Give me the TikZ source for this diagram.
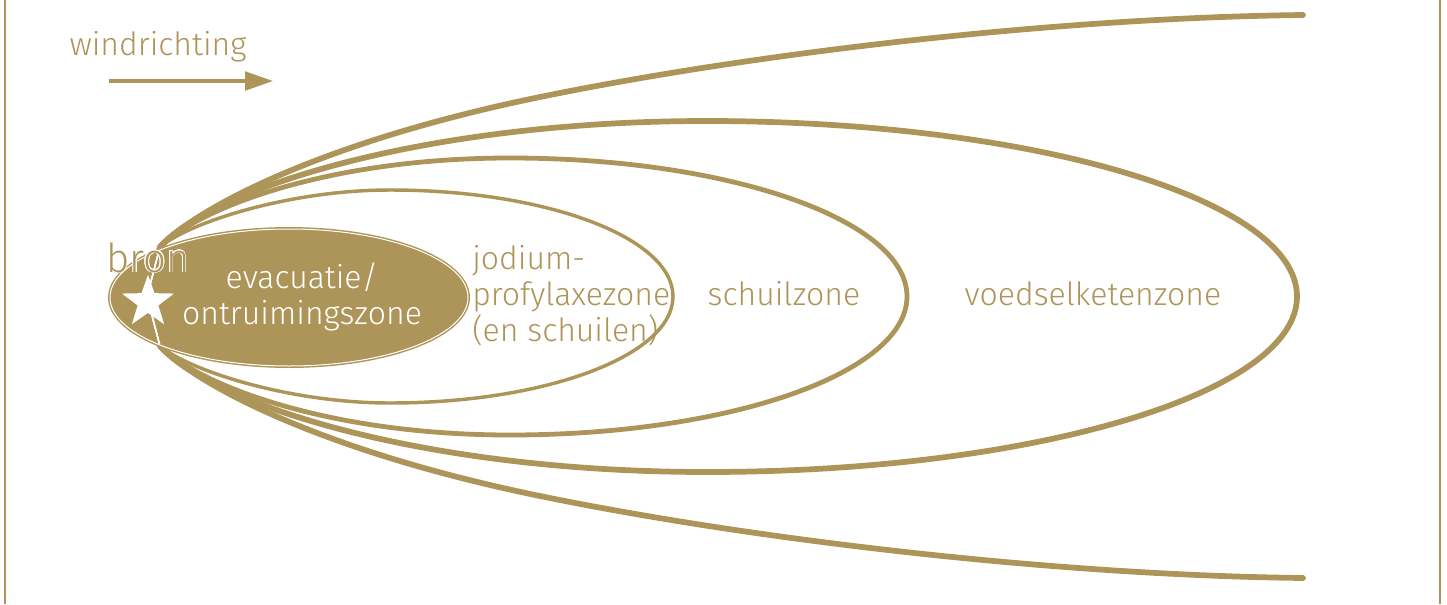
\documentclass[tikz,border=0pt]{standalone}
\usepackage{fontspec}
\setmainfont{Fira Sans}[UprightFont={* Light}]
\usepackage{contour}
\usetikzlibrary{arrows.meta,shapes.geometric}

\definecolor{zonegold}{RGB}{173,149,89}
\contourlength{0.5pt}

\tikzset{
  zonelabel/.style={text=zonegold, font=\fontsize{24}{27}\selectfont, inner sep=0pt},
  zoneline/.style={draw=zonegold, line cap=round, line join=round},
  % zone outlines, all leaving the source
  jodiumzone/.style={insert path={(147,296.5) -- (160,247)
    .. controls (190,222) and (290,190) .. (390,190)
    arc[start angle=270, end angle=450, x radius=283, y radius=106.5]
    .. controls (290,403) and (190,371) .. (160,346) -- cycle}},
  schuilzone/.style={insert path={(147,296.5) -- (160,247)
    .. controls (200,207) and (330,158) .. (510,158)
    arc[start angle=270, end angle=450, x radius=397, y radius=138.5]
    .. controls (330,435) and (200,386) .. (160,346) -- cycle}},
  voedselzone/.style={insert path={(147,296.5) -- (160,247)
    .. controls (210,190) and (420,121) .. (707,121)
    arc[start angle=270, end angle=450, x radius=590, y radius=175.5]
    .. controls (420,472) and (210,403) .. (160,346) -- cycle}},
  pluimzone/.style={insert path={(1303,15)
    .. controls (1050,18) and (750,54) .. (540,97)
    .. controls (330,140) and (200,205) .. (160,247) -- (147,296.5) -- (160,346)
    .. controls (200,388) and (330,453) .. (540,496)
    .. controls (750,539) and (1050,575) .. (1303,578)}},
}

\begin{document}
\begin{tikzpicture}[x=0.75pt, y=-0.75pt]
  \useasboundingbox (0,0) rectangle (1447,604);

  % frame
  \draw[zonegold, line width=1.5pt] (5,0) -- (5,604);
  \draw[zonegold, line width=1.5pt] (1440,0) -- (1440,604);

  % wind direction
  \node[zonelabel, anchor=base] (wind) at (158,55) {windrichting};
  \coordinate (windtail) at (109,81);
  \coordinate (windhead) at (273,81);
  \draw[zonegold, line width=2.4pt, -{Triangle[length=21pt, width=14pt]}] (windtail) -- (windhead);

  % zones
  \draw[zoneline, line width=2.6pt, jodiumzone];
  \draw[zoneline, line width=3.6pt, schuilzone];
  \draw[zoneline, line width=4.3pt, voedselzone];
  \draw[zoneline, line width=4.3pt, pluimzone];

  % evacuation zone
  \filldraw[fill=zonegold, draw=zonegold, double=white, double distance=0.75pt, line width=1.1pt]
    (289,297.5) ellipse [x radius=179, y radius=68.5];
  \begin{scope}
    \clip (289,297.5) ellipse [x radius=178, y radius=67.5];
    \draw[white, line width=1pt, line join=round, jodiumzone];
    \draw[white, line width=1pt, line join=round, schuilzone];
    \draw[white, line width=1pt, line join=round, voedselzone];
    \draw[white, line width=1pt, line join=round, pluimzone];
  \end{scope}

  % source
  \node[star, star points=5, star point ratio=2.5, minimum size=41pt, inner sep=0pt,
    fill=white] (star) at (148,302) {};
  \node[zonelabel, font=\fontsize{30}{34}\selectfont, anchor=base] (bron) at (148,272)
    {\contour{white}{bron}};

  % labels
  \node[zonelabel, text=white, align=center] (evac) at (302,297)
    {evacuatie/\\ontruimingszone};
  \node[zonelabel, align=left, anchor=west] (jodium) at (472,295.5)
    {jodium-\\profylaxezone\\(en schuilen)};
  \node[zonelabel, anchor=base] (schuil) at (784,305) {schuilzone};
  \node[zonelabel, anchor=base] (voedsel) at (1093,305) {voedselketenzone};
\end{tikzpicture}
\end{document}
